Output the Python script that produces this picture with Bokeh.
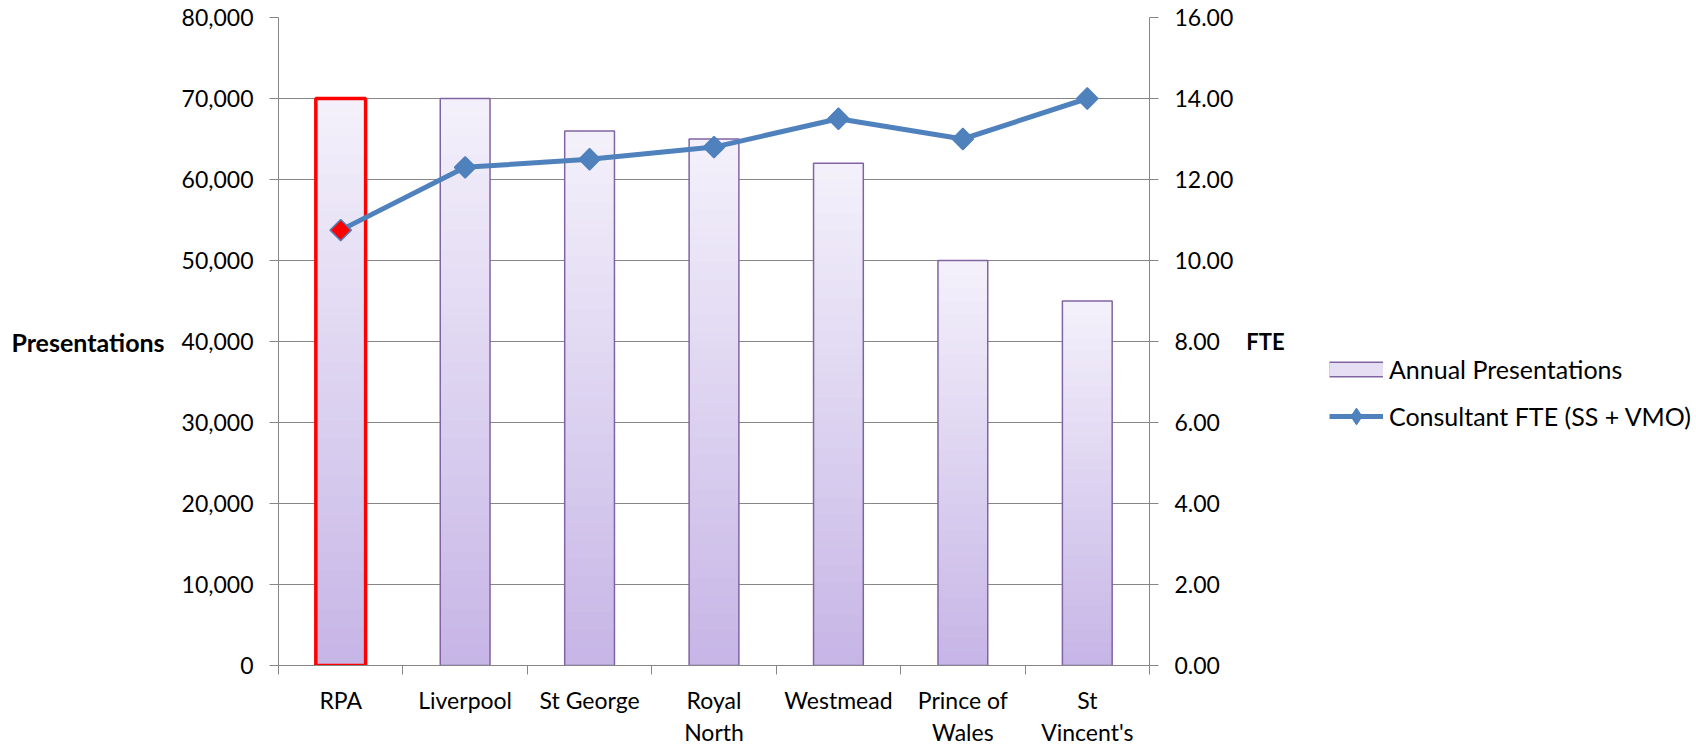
import math
from bokeh.plotting import figure
from bokeh.models import (Range1d, LinearAxis, FixedTicker, NumeralTickFormatter,
                          Legend, LegendItem)
from bokeh.embed import file_html
from bokeh.resources import INLINE

# ---------------- data ----------------
categories = ["RPA", "Liverpool", "St George", "Royal North", "Westmead", "Prince of Wales", "St Vincent's"]
category_labels = ["RPA", "Liverpool", "St George", "Royal\nNorth", "Westmead", "Prince of\nWales", "St\nVincent's"]
presentations = [70000, 70000, 66000, 65000, 62000, 50000, 45000]
fte = [10.75, 12.3, 12.5, 12.8, 13.5, 13.0, 14.0]
left_ticks = [0, 10000, 20000, 30000, 40000, 50000, 60000, 70000, 80000]
right_ticks = [0, 2, 4, 6, 8, 10, 12, 14, 16]
highlight = "RPA"

FONT = "Lato"
FS = "23px"
GRID = "#868686"
BAR_LINE = "#8064a2"
LINE_COL = "#4f81bd"
TOP_COL = (244, 241, 251)
BOT_COL = (198, 181, 230)
NAN = float("nan")

n = len(categories)
centers = [i + 0.5 for i in range(n)]
bounds = [float(i) for i in range(n + 1)]

p = figure(frame_width=871, frame_height=648,
           min_border_left=278, min_border_right=547, min_border_top=17, min_border_bottom=80,
           x_range=Range1d(0, n), y_range=Range1d(left_ticks[0], left_ticks[-1]),
           output_backend="svg", toolbar_location=None)
p.outline_line_color = None
p.background_fill_color = "white"
p.border_fill_color = "white"
p.xgrid.visible = False
p.ygrid.ticker = FixedTicker(ticks=left_ticks)
p.ygrid.grid_line_color = GRID
p.ygrid.grid_line_width = 1

# left axis
ya = p.yaxis[0]
ya.ticker = FixedTicker(ticks=left_ticks)
ya.formatter = NumeralTickFormatter(format="0,0")
ya.axis_line_color = GRID
ya.major_tick_line_color = GRID
ya.major_tick_out = 9
ya.major_tick_in = 0
ya.minor_tick_line_color = None
ya.major_label_standoff = 16
ya.major_label_text_font = FONT
ya.major_label_text_font_size = FS
ya.major_label_text_color = "black"
ya.axis_label = "Presentations"
ya.axis_label_orientation = "horizontal"
ya.axis_label_standoff = 14
ya.axis_label_text_font = FONT
ya.axis_label_text_font_size = "25px"
ya.axis_label_text_font_style = "bold"
ya.axis_label_text_color = "black"

# bottom axis
xa = p.xaxis[0]
xa.ticker = FixedTicker(ticks=centers, minor_ticks=bounds)
xa.major_label_overrides = {c: lab for c, lab in zip(centers, category_labels)}
xa.axis_line_color = GRID
xa.major_tick_line_color = None
xa.minor_tick_line_color = GRID
xa.minor_tick_out = 9
xa.minor_tick_in = 0
xa.major_label_standoff = 11
xa.major_label_text_font = FONT
xa.major_label_text_font_size = FS
xa.major_label_text_color = "black"
xa.major_label_text_line_height = 1.15

# right axis
p.extra_y_ranges = {"fte": Range1d(right_ticks[0], right_ticks[-1])}
ra = LinearAxis(y_range_name="fte", ticker=FixedTicker(ticks=right_ticks),
                formatter=NumeralTickFormatter(format="0.00"))
ra.axis_line_color = GRID
ra.major_tick_line_color = GRID
ra.major_tick_out = 9
ra.major_tick_in = 0
ra.minor_tick_line_color = None
ra.major_label_standoff = 16
ra.major_label_text_font = FONT
ra.major_label_text_font_size = FS
ra.major_label_text_color = "black"
ra.axis_label = "FTE"
ra.axis_label_orientation = "horizontal"
ra.axis_label_standoff = 10
ra.axis_label_text_font = FONT
ra.axis_label_text_font_size = "22px"
ra.axis_label_text_font_style = "bold"
ra.axis_label_text_color = "black"
p.add_layout(ra, "right")

# gradient bars (overlapping slices)
N = 60
xs, bots, tops, cols = [], [], [], []
for c, v in zip(centers, presentations):
    for j in range(N):
        t = (j + 0.5) / N
        r = round(BOT_COL[0] + (TOP_COL[0] - BOT_COL[0]) * t)
        g = round(BOT_COL[1] + (TOP_COL[1] - BOT_COL[1]) * t)
        b = round(BOT_COL[2] + (TOP_COL[2] - BOT_COL[2]) * t)
        xs.append(c)
        bots.append(v * j / N)
        tops.append(min(v, v * (j + 2) / N))
        cols.append("#%02x%02x%02x" % (r, g, b))
p.vbar(x=xs, bottom=bots, top=tops, width=0.4, fill_color=cols, line_color=None)

outline_cols = ["red" if c == highlight else BAR_LINE for c in categories]
outline_w = [3.5 if c == highlight else 1.5 for c in categories]
p.vbar(x=centers, top=presentations, width=0.4, fill_color=None,
       line_color=outline_cols, line_width=outline_w)

# line + markers
line_r = p.line(centers, fte, y_range_name="fte", line_color=LINE_COL, line_width=5)
mk_fill = ["red" if c == highlight else LINE_COL for c in categories]
p.scatter(centers, fte, y_range_name="fte", marker="square", angle=math.pi / 4, size=15,
          fill_color=mk_fill, line_color=LINE_COL, line_width=1.5)

# legend proxies (NaN data: not drawn in the plot, only in the legend)
sw_outer = p.segment(x0=[NAN], y0=[NAN], x1=[NAN], y1=[NAN], line_color=BAR_LINE,
                     line_width=16, line_cap="butt")
sw_inner = p.segment(x0=[NAN], y0=[NAN], x1=[NAN], y1=[NAN], line_color="#e6dff3",
                     line_width=13, line_cap="butt")
mk_proxy = p.scatter(x=[NAN], y=[NAN], marker="diamond", size=17,
                     fill_color=LINE_COL, line_color=LINE_COL)

legend = Legend(items=[LegendItem(label="Annual Presentations", renderers=[sw_outer, sw_inner]),
                       LegendItem(label="Consultant FTE (SS + VMO)", renderers=[line_r, mk_proxy])],
                location=(-181, 228), orientation="vertical",
                margin=0, padding=0, border_line_color=None, background_fill_alpha=0,
                glyph_width=54, glyph_height=42, label_height=28, spacing=5,
                label_standoff=6, label_text_font=FONT, label_text_font_size="25px",
                label_text_color="black")
p.add_layout(legend, "right")

open("out.html", "w").write(file_html(p, INLINE))
